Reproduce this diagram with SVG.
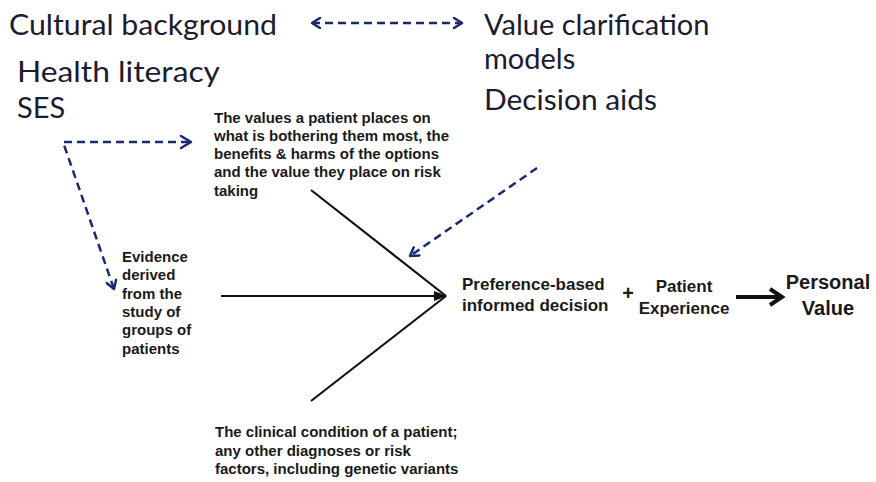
<svg xmlns="http://www.w3.org/2000/svg" width="876" height="482" viewBox="0 0 876 482">
<style>
.big{font-family:Lato,"Open Sans",sans-serif;font-size:29px;fill:#1b1b33}
.sm{font-family:"Liberation Sans",Arial,sans-serif;font-size:15px;font-weight:bold;fill:#1a1a1a;letter-spacing:0px}
.md{font-family:"Liberation Sans",Arial,sans-serif;font-size:17px;font-weight:bold;fill:#1a1a1a}
.lg{font-family:"Liberation Sans",Arial,sans-serif;font-size:20px;font-weight:bold;fill:#1a1a1a}
.dash{fill:none;stroke:#1a2a6e;stroke-width:2.5;stroke-dasharray:8 5}
.head{fill:none;stroke:#1a2a6e;stroke-width:2.5;stroke-linecap:round;stroke-linejoin:round}
.ln{fill:none;stroke:#111;stroke-width:2.2}
</style>
<defs>
<marker id="open" markerWidth="12" markerHeight="12" refX="10" refY="6" orient="auto-start-reverse" markerUnits="userSpaceOnUse">
<path d="M2,1 L10,6 L2,11" fill="none" stroke="#1a2a6e" stroke-width="2.5" stroke-linecap="round" stroke-linejoin="round"/>
</marker>
<marker id="solid" markerWidth="14" markerHeight="12" refX="12" refY="6" orient="auto" markerUnits="userSpaceOnUse">
<path d="M0,1 L13,6 L0,11 Z" fill="#111"/>
</marker>
</defs>
<g id="cultural"><text class="big" x="9" y="35" textLength="268" lengthAdjust="spacingAndGlyphs">Cultural background</text></g>
<g id="health"><text class="big" x="17" y="82" textLength="203" lengthAdjust="spacingAndGlyphs">Health literacy</text>
<text class="big" x="17" y="118">SES</text></g>
<g id="valueclar"><text class="big" x="484" y="35">Value clarification</text>
<text class="big" x="484" y="69">models</text>
<text class="big" x="484" y="110" textLength="173" lengthAdjust="spacingAndGlyphs">Decision aids</text></g>
<g id="values"><text class="sm" x="214" y="123">The values a patient places on</text>
<text class="sm" x="214" y="141">what is bothering them most, the</text>
<text class="sm" x="214" y="159">benefits &amp; harms of the options</text>
<text class="sm" x="214" y="177">and the value they place on risk</text>
<text class="sm" x="214" y="196">taking</text></g>
<g id="evidence"><text class="sm" x="122" y="262">Evidence</text>
<text class="sm" x="122" y="280">derived</text>
<text class="sm" x="122" y="299">from the</text>
<text class="sm" x="122" y="317">study of</text>
<text class="sm" x="122" y="335">groups of</text>
<text class="sm" x="122" y="354">patients</text></g>
<g id="clinical"><text class="sm" x="215" y="437">The clinical condition of a patient;</text>
<text class="sm" x="215" y="456">any other diagnoses or risk</text>
<text class="sm" x="215" y="474">factors, including genetic variants</text></g>
<g id="decision"><text class="md" x="462" y="290">Preference-based</text>
<text class="md" x="462" y="311">informed decision</text></g>
<g id="plus"><text class="lg" x="628" y="300" text-anchor="middle">+</text></g>
<g id="experience"><text class="md" x="684" y="292" text-anchor="middle">Patient</text>
<text class="md" x="684" y="314" text-anchor="middle">Experience</text></g>
<g id="personal"><text class="lg" x="828" y="289" text-anchor="middle">Personal</text>
<text class="lg" x="828" y="315" text-anchor="middle">Value</text></g>
<g id="connectors">
<line class="dash" x1="312" y1="23" x2="462" y2="23" marker-start="url(#open)" marker-end="url(#open)"/>
<polyline class="dash" points="189,142 63,142 114,289" marker-end="url(#open)"/>
<path d="M181,136 L191,142 L181,148" class="head"/>
<line class="dash" x1="537" y1="168" x2="410" y2="256" marker-end="url(#open)"/>
<line class="ln" x1="311" y1="190" x2="446" y2="296"/>
<line class="ln" x1="221" y1="296" x2="446" y2="296" marker-end="url(#solid)"/>
<line class="ln" x1="311" y1="401" x2="446" y2="296"/>
<line x1="736" y1="297" x2="780" y2="297" stroke="#111" stroke-width="4"/>
<path d="M770,289 L782,297 L770,305" fill="none" stroke="#111" stroke-width="4" stroke-linejoin="miter"/>
</g>
</svg>
